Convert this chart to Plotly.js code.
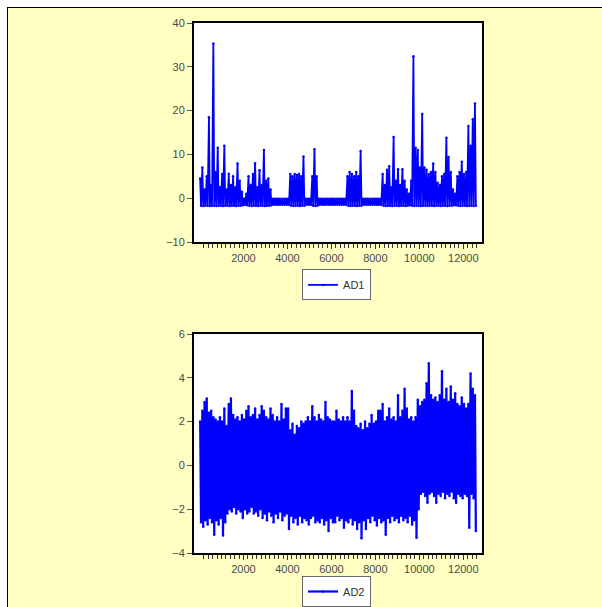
<!DOCTYPE html>
<html><head><meta charset="utf-8">
<script src="https://cdn.plot.ly/plotly-3.0.1.min.js"></script>
<style>
html,body{margin:0;padding:0;background:#fff;width:602px;height:607px;overflow:hidden}
#frame{position:absolute;left:7px;top:7px;width:595px;height:600px;background:#FFFFC4;border-top:1px solid #000;border-left:1px solid #000}
#chart{position:absolute;left:0;top:0;width:602px;height:607px}
</style></head><body>
<div id="frame"></div><div id="chart"></div>
<script>
const binWidth = 100;
const seriesNames = ["AD1", "AD2"];
const xTickLabels = [2000, 4000, 6000, 8000, 10000, 12000];

const ad1High = [
  4.5, 7, 2, 5, 18.5, 3, 35.3, 6, 11.5, 2.5,
  5.5, 12, 2, 5.6, 3, 5, 2.5, 7.9, 4, 1.5,
  -0.1, 1, 5, 3, 5.5, 8, 2.5, 6.4, 3, 11,
  4, 4.5, 2, -0.1, -0.1, -0.1, -0.1, -0.1, -0.1, -0.1,
  -0.1, 5.5, 5, 5.5, 5.3, 5.5, 5, 9.5, -0.1, -0.1,
  -0.1, 5, 11.2, 5, -0.1, -0.1, -0.1, -0.1, -0.1, -0.1,
  -0.1, -0.1, -0.1, -0.1, -0.1, -0.1, -0.1, 5, 6, 5.5,
  5, 6, 5, 10.8, -0.1, -0.1, -0.1, -0.1, -0.1, -0.1,
  -0.1, -0.1, -0.1, 5.5, 3, 6.5, 7.3, 2.5, 14, 4,
  6.6, 3, 6.6, 4, 2, 1, 4, 32.4, 11.5, 11,
  7, 19.2, 7, 6.5, 5.5, 6, 7.9, 6, 3.5, 3,
  5, 5.5, 13.8, 9.4, 6, 2, 1, 5, 6, 8.3,
  5.5, 6, 16.5, 12, 18, 21.6
];
const ad1Low = [
  -1.7, -1.8, -1.7, -1.7, -1.8, -1.7, -1.7, -1.8, -1.7, -1.7,
  -1.8, -1.7, -1.7, -1.8, -1.7, -1.7, -1.8, -1.7, -1.7, -1.6,
  -1.5, -1.6, -1.7, -1.8, -1.7, -1.7, -1.8, -1.7, -1.7, -1.8,
  -1.7, -1.7, -1.6, -1.5, -1.5, -1.5, -1.5, -1.5, -1.5, -1.5,
  -1.5, -1.7, -1.8, -1.7, -1.7, -1.8, -1.7, -1.7, -1.5, -1.5,
  -1.5, -1.7, -1.8, -1.7, -1.5, -1.5, -1.5, -1.5, -1.5, -1.5,
  -1.5, -1.5, -1.5, -1.5, -1.5, -1.5, -1.5, -1.7, -1.8, -1.7,
  -1.7, -1.8, -1.7, -1.7, -1.5, -1.5, -1.5, -1.5, -1.5, -1.5,
  -1.5, -1.5, -1.5, -1.7, -1.8, -1.7, -1.7, -1.8, -1.7, -1.7,
  -1.8, -1.7, -1.7, -1.8, -1.7, -1.6, -1.7, -1.8, -1.7, -1.7,
  -1.8, -1.7, -1.7, -1.8, -1.7, -1.7, -1.8, -1.7, -1.7, -1.8,
  -1.7, -1.7, -1.8, -1.7, -1.7, -1.6, -1.6, -1.7, -1.8, -1.7,
  -1.7, -1.8, -1.7, -1.7, -1.8, -1.7
];
const ad2High = [
  2.0, 2.5, 2.9, 3.05, 2.4, 2.5, 2.2, 2.1, 2.0, 2.2,
  2.0, 2.6, 1.8, 2.8, 3.05, 2.3, 2.1, 2.2, 2.0, 2.3,
  2.1, 2.5, 2.7, 2.2, 2.3, 2.6, 2.1, 2.3, 2.7, 2.5,
  2.2, 2.1, 2.6, 2.3, 2.0, 2.2, 2.0, 2.8, 2.1, 2.6,
  2.6, 1.6, 1.9, 1.4, 1.8, 1.7, 2.0, 1.9, 2.0, 2.2,
  2.0, 2.7, 2.2, 2.0, 2.3, 2.1, 2.0, 2.9, 2.2, 2.1,
  2.0, 2.0, 2.5, 2.1, 2.0, 2.2, 2.0, 2.2, 2.0, 3.4,
  2.5, 1.8, 1.7, 1.9, 1.6, 2.0, 1.7, 1.9, 2.3, 1.9,
  2.0, 2.5, 2.5, 2.8, 2.0, 2.2, 2.6, 2.1, 2.2, 2.0,
  3.2, 2.2, 2.5, 3.5, 2.6, 2.1, 2.2, 2.0, 2.2, 3.0,
  2.7, 2.9, 3.0, 3.75, 4.66, 3.2, 3.0, 3.1, 2.9, 3.2,
  4.3, 3.0, 3.5, 2.9, 3.6, 3.0, 3.3, 2.8, 2.7, 3.1,
  2.8, 2.6, 2.8, 4.2, 3.5, 3.2
];
const ad2Low = [
  -2.6, -2.8, -2.5, -2.7, -2.4, -2.6, -3.17, -2.5, -2.7, -2.4,
  -3.2, -2.6, -2.2, -2.0, -2.1, -1.9, -2.2, -2.0, -2.1, -2.4,
  -2.0, -2.2, -2.1, -1.9, -2.2, -2.1, -2.3, -2.0, -2.4, -2.2,
  -2.5, -2.1, -2.3, -2.6, -2.2, -2.4, -2.1, -2.5, -2.3, -2.2,
  -2.9, -2.3, -2.6, -2.4, -2.7, -2.3, -2.6, -2.4, -2.5, -2.7,
  -2.4, -2.3, -2.6, -2.5, -2.6, -2.4, -2.7, -2.5, -3.0, -2.4,
  -2.6, -2.6, -2.3, -2.5, -2.4, -2.85, -2.5, -2.6, -2.4, -2.7,
  -2.5, -2.9, -2.6, -3.33, -2.5, -2.9, -2.4, -2.6, -2.3, -2.5,
  -2.75, -2.4, -2.6, -2.5, -3.17, -2.4, -2.6, -2.3, -2.5, -2.4,
  -2.6, -2.3, -2.5, -2.4, -2.6, -2.3, -2.7, -2.5, -3.3, -2.0,
  -1.3, -1.2, -1.4, -1.7, -1.3, -1.2, -1.4, -1.7, -1.3, -1.4,
  -1.2, -1.5, -1.3, -1.4, -1.2, -1.5, -1.7, -1.3, -1.4, -1.5,
  -1.3, -1.4, -2.85, -1.3, -1.5, -3.0
];

function envelope(high, low) {
  const x = [], y = [];
  for (let i = 0; i < high.length; i++) {
    x.push(i * binWidth + 30, i * binWidth + 70);
    y.push(high[i], low[i]);
  }
  return {x, y};
}

const e1 = envelope(ad1High, ad1Low);
const e2 = envelope(ad2High, ad2Low);

// minor tick positions every 200 observations along the sample (axis styling)
const minorTicks = [];
for (let v = 200; v <= 12600; v += 200) if (v % 2000 !== 0) minorTicks.push(v);

const markerStyle = {symbol: 'circle', size: 2.5, color: '#0000ff', line: {width: 0}};

const traces = [
  {type: 'scatter', mode: 'lines+markers', name: seriesNames[0], x: e1.x, y: e1.y,
   xaxis: 'x', yaxis: 'y', line: {color: '#0000ff', width: 1.8}, marker: markerStyle, legend: 'legend'},
  {type: 'scatter', mode: 'lines+markers', name: seriesNames[1], x: e2.x, y: e2.y,
   xaxis: 'x2', yaxis: 'y2', line: {color: '#0000ff', width: 2.2}, marker: markerStyle, legend: 'legend2'}
];

const tickFont = {family: 'Arial, Liberation Sans, sans-serif', size: 11, color: '#4a4a4a'};
function xAxis(anchor) {
  return {
    anchor: anchor, domain: [0, 1], range: [-250, 12850],
    tickmode: 'array', tickvals: xTickLabels, ticktext: xTickLabels.map(String),
    ticks: 'outside', ticklen: 5, tickcolor: '#333', tickwidth: 1,
    minor: {tickmode: 'array', tickvals: minorTicks, ticks: 'outside', ticklen: 4, tickcolor: '#333', showgrid: false},
    tickfont: tickFont, showline: true, linecolor: '#000', linewidth: 2, mirror: true,
    showgrid: false, zeroline: false, fixedrange: true
  };
}
function yAxis(anchor, domain, range, dtick) {
  return {
    anchor: anchor, domain: domain, range: range, dtick: dtick, tick0: 0,
    ticks: 'outside', ticklen: 5, tickcolor: '#555', tickfont: tickFont,
    showline: true, linecolor: '#000', linewidth: 2, mirror: true,
    showgrid: false, zeroline: false, fixedrange: true
  };
}

const legendBase = {
  xanchor: 'center', yanchor: 'top', bgcolor: '#ffffff', bordercolor: '#666', borderwidth: 1,
  font: {family: 'Arial, Liberation Sans, sans-serif', size: 11, color: '#333'},
  itemwidth: 30, orientation: 'v'
};

const layout = {
  width: 602, height: 607,
  margin: {l: 194, r: 120, t: 23, b: 54, autoexpand: false},
  paper_bgcolor: 'rgba(0,0,0,0)', plot_bgcolor: '#ffffff',
  showlegend: true,
  xaxis: xAxis('y'),
  yaxis: yAxis('x', [0.5868, 1], [-10, 40], 10),
  xaxis2: xAxis('y2'),
  yaxis2: yAxis('x2', [0, 0.4132], [-4, 6], 2),
  legend: Object.assign({}, legendBase, {x: 0.495, y: 0.535}),
  legend2: Object.assign({}, legendBase, {x: 0.495, y: -0.0434})
};

Plotly.newPlot('chart', traces, layout, {staticPlot: true, displayModeBar: false});
</script></body></html>
